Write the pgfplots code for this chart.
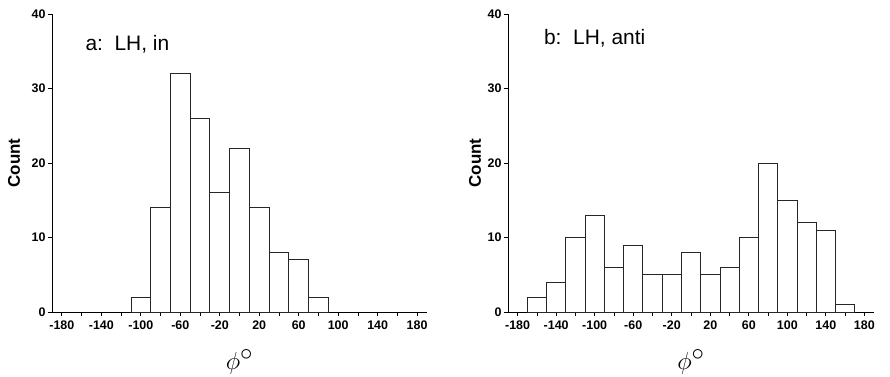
\documentclass[border=0pt]{standalone}
\usepackage{fontspec}
\setmainfont{Liberation Sans}
\usepackage{pgfplots}
\pgfplotsset{compat=1.18}
\begin{document}
\begin{tikzpicture}
\useasboundingbox (0,0) rectangle (890bp,377bp);
\pgfplotsset{hist/.style={
 scale only axis, height=298bp, ymin=0, ymax=40, xmin=-190, xmax=190,
 axis lines=left, axis line style={-, black, line width=0.8bp},
 tick align=outside, tick style={black, line width=0.8bp},
 major tick length=4bp, minor tick length=4bp,
 xtick={-180,-140,...,180},
 xticklabels={-180,-140,-100,-60,-20,20,60,100,140,180},
 minor xtick={-160,-120,...,160},
 ytick={0,10,20,30,40}, yticklabels={0,10,20,30,40},
 tick label style={font=\bfseries\fontsize{12.5}{13}\selectfont},
 xticklabel style={yshift=-1bp},
 yticklabel style={xshift=1bp},
 xlabel={$\phi^\circ$},
 xlabel style={font=\fontsize{33}{36}\selectfont, at={(axis description cs:0.5,0)}, anchor=center, yshift=-50bp},
 clip=false
}}
\begin{axis}[hist, at={(52bp,65bp)}, width=375bp]
\addplot[ybar, bar width=20, bar shift=0pt, fill=white, draw=black!85, line width=0.8bp] coordinates {
(-100,2) (-80,14) (-60,32) (-40,26) (-20,16) (0,22) (20,14) (40,8) (60,7) (80,2)};
\node[anchor=base west, font=\fontsize{21}{23}\selectfont] at (rel axis cs:0.08,0.879) {a:\ \ LH, in};
\node[rotate=90, anchor=center, font=\bfseries\fontsize{17}{18}\selectfont] at ([xshift=-38bp]rel axis cs:0,0.5) {Count};
\end{axis}
\begin{axis}[hist, at={(508bp,65bp)}, width=366bp]
\addplot[ybar, bar width=20, bar shift=0pt, fill=white, draw=black!85, line width=0.8bp] coordinates {
(-160,2) (-140,4) (-120,10) (-100,13) (-80,6) (-60,9) (-40,5) (-20,5) (0,8) (20,5) (40,6) (60,10) (80,20) (100,15) (120,12) (140,11) (160,1)};
\node[anchor=base west, font=\fontsize{21}{23}\selectfont] at (rel axis cs:0.089,0.896) {b:\ \ LH, anti};
\node[rotate=90, anchor=center, font=\bfseries\fontsize{17}{18}\selectfont] at ([xshift=-33bp]rel axis cs:0,0.5) {Count};
\end{axis}
\end{tikzpicture}
\end{document}
